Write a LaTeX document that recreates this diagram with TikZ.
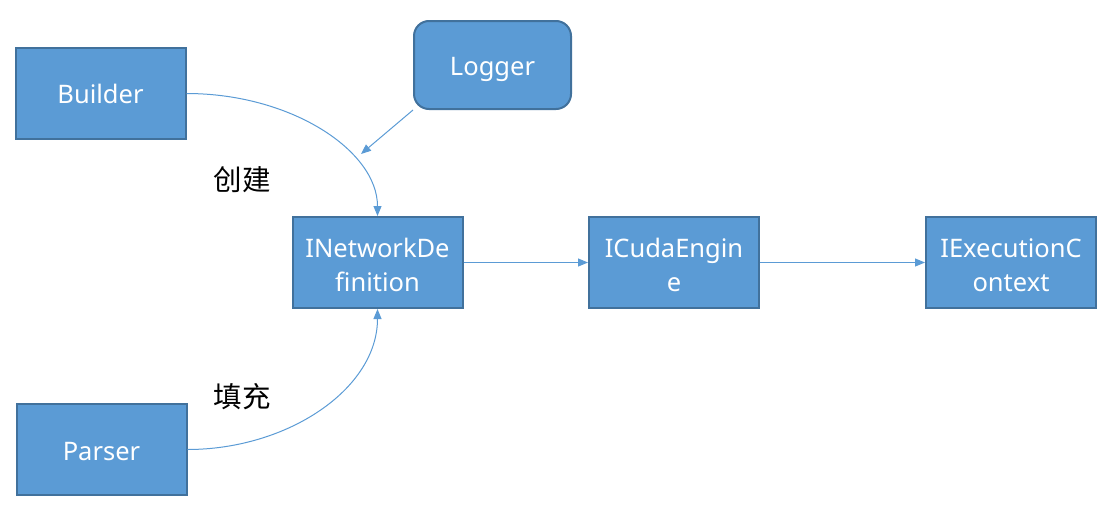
\documentclass[tikz,border=0pt]{standalone}
\usepackage{fontspec}
\setmainfont{Noto Sans}
\newfontfamily\cjk{Noto Sans CJK SC}
\usetikzlibrary{arrows.meta}
\definecolor{boxfill}{HTML}{5B9BD5}
\definecolor{boxline}{HTML}{41719C}
\newcommand\lowertxt[2]{\raisebox{-#1}[\height][\depth]{\begin{tabular}{@{}c@{}}#2\end{tabular}}}
\tikzset{
  box/.style={draw=boxline, fill=boxfill, line width=2pt, text=white,
    font=\fontsize{25.5}{34}\selectfont, align=center, inner sep=0pt,
    minimum width=170pt, minimum height=91pt},
  conn/.style={draw=boxfill, line width=1pt, -{Triangle[length=10pt,width=8pt]}},
  lbl/.style={font=\cjk\fontsize{28.5}{30}\selectfont, text=black, inner sep=0pt}
}
\begin{document}
\begin{tikzpicture}[x=1pt,y=-1pt]
\useasboundingbox (0,0) rectangle (1119,509);
\node[box] (builder) at (100.5,93.5) {\lowertxt{3.5pt}{Builder}};
\node[box, rounded corners=15pt, minimum width=157pt, minimum height=88pt] (logger) at (492.5,65) {\lowertxt{4pt}{Logger}};
\node[box] (netdef) at (377.5,262.5) {\lowertxt{5pt}{INetworkDe\\finition}};
\node[box] (cuda) at (674,262.5) {\lowertxt{5pt}{ICudaEngin\\e}};
\node[box] (exec) at (1011,262.5) {\lowertxt{5pt}{IExecutionC\\ontext}};
\node[box] (parser) at (101.5,449.5) {\lowertxt{4pt}{Parser}};
\node[lbl] (create) at (242,180) {创建};
\node[lbl] (fill) at (242,397) {填充};
\coordinate (lgend) at (361,154);
\draw[conn] (builder.east) .. controls +(105,0) and +(0,-65) .. (netdef.north);
\draw[conn] (parser.east) .. controls +(100,0) and +(0,80) .. (netdef.south);
\draw[conn] (logger.south west) -- (lgend);
\draw[conn] (netdef.east) -- (cuda.west);
\draw[conn] (cuda.east) -- (exec.west);
\end{tikzpicture}
\end{document}
